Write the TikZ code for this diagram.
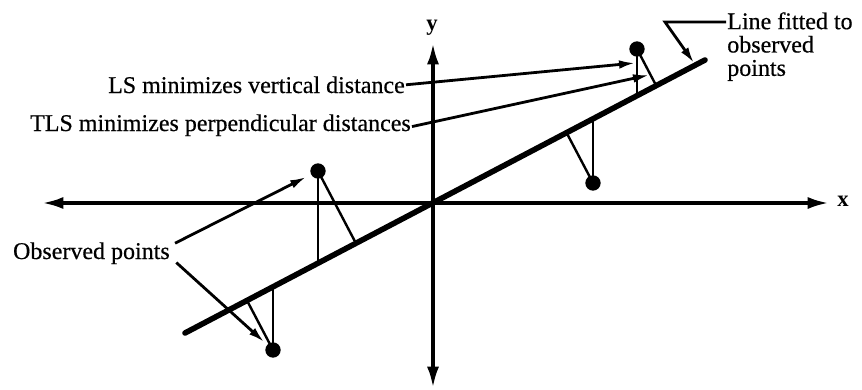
\documentclass[tikz,border=0pt]{standalone}
\usepackage{fontspec}
\setmainfont{Liberation Serif}
\newfontfamily\scanfont[FakeBold=0.5]{Liberation Serif}
\usetikzlibrary{arrows.meta,calc}

\tikzset{
  axis/.style={line width=2.7pt,{Latex[length=16pt,width=9pt]}-{Latex[length=16pt,width=9pt]}},
  fitline/.style={line width=4.2pt,line cap=round},
  dist/.style={line width=1.8pt},
  conn/.style={line width=2.1pt,-{Latex[length=12pt,width=6.5pt]}},
  dot/.style={circle,fill,inner sep=0pt,minimum size=11.5pt},
  lbl/.style={inner sep=0.75pt,font=\fontsize{18}{17.5}\scanfont},
  axlbl/.style={inner sep=0.75pt,font=\fontsize{17}{17}\selectfont\bfseries}
}

\begin{document}
\begin{tikzpicture}[x=0.75pt,y=0.75pt,yscale=-1,xscale=1]
\useasboundingbox (0,0) rectangle (862,389);

%Axes
\coordinate (xl) at (42,203);
\coordinate (xr) at (829,203);
\coordinate (yt) at (433,43);
\coordinate (yb) at (433,388);
\draw [axis] (xl) -- (xr);
\draw [axis] (yb) -- (yt);

%Fitted line
\coordinate (fa) at (185,333);
\coordinate (fb) at (705,60);
\draw [fitline] (fa) -- (fb);

%Observed points
\node [dot] (p1) at (318,171) {};
\node [dot] (p2) at (273,350) {};
\node [dot] (p3) at (593,183) {};
\node [dot] (p4) at (637,49) {};

%Vertical distances
\coordinate (v1) at (318,263);
\coordinate (v2) at (273,287);
\coordinate (v3) at (593,119);
\coordinate (v4) at (637,96);
\foreach \i in {1,...,4}
  \draw [dist] (p\i.center) -- (v\i);

%Perpendicular distances
\foreach \i in {1,...,4}
  \draw [dist] (p\i.center) -- ($(fa)!(p\i)!(fb)$);

% Text Node
\node [lbl,anchor=base east] (ls) at (406,93) {LS minimizes vertical distance};
% Text Node
\node [lbl,anchor=base east] (tls) at (412,131) {TLS minimizes perpendicular distances};
% Text Node
\node [lbl,anchor=base east] (obs) at (171,259) {Observed points};
% Text Node
\node [lbl,anchor=north west,align=left] (fit) at (726,11) {Line fitted to\\observed\\points};
% Text Node
\node [axlbl] (ylbl) at (432,28) {y};
% Text Node
\node [axlbl] (xlbl) at (843,201) {x};

%Connectors
\coordinate (lsend) at (635,63);
\coordinate (tlsend) at (649,75);
\coordinate (fitknee) at (665,22);
\coordinate (fitend) at (694,63);
\draw [conn] (ls.east) -- (lsend);
\draw [conn] ([yshift=1pt]tls.east) -- (tlsend);
\draw [conn,shorten >=4pt] ([xshift=3pt,yshift=-7.5pt]obs.east) -- (p1);
\draw [conn,shorten >=3pt] ([xshift=4pt,yshift=7pt]obs.east) -- (p2);
\draw [conn] (fit.west |- fitknee) -- (fitknee) -- (fitend);

\end{tikzpicture}
\end{document}
